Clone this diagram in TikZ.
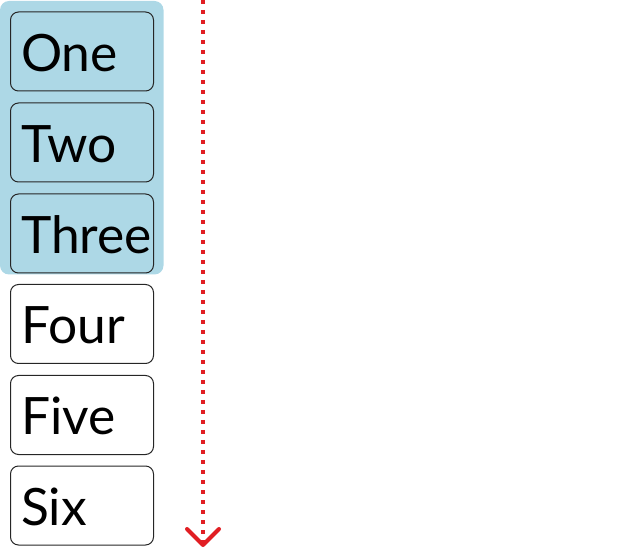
\documentclass[tikz,border=0pt]{standalone}
\usepackage{fontspec}
\setmainfont{Lato}
\definecolor{grpblue}{RGB}{173,216,230}
\definecolor{arrred}{RGB}{225,30,35}
\begin{document}
\begin{tikzpicture}[x=1pt,y=-1pt,
  itembox/.style={draw=black!85,line width=1pt,rounded corners=8pt},
  itemtext/.style={anchor=base west,inner sep=0pt,font=\fontsize{51.5}{51.5}\selectfont},
  grp/.style={fill=grpblue,rounded corners=9pt}]
\useasboundingbox (0,0) rectangle (630,548);
\fill[grp] (0,1) rectangle (163.5,274.5);
\foreach \name/\txt/\top in {one/One/12, two/Two/103, three/Three/194, four/Four/284.5, five/Five/375.5, six/Six/466} {
  \draw[itembox] (10.5,\top) rectangle (153.5,\top+79);
  \node[itemtext] (\name) at (21,\top+59.5) {\txt};
}
\coordinate (lt) at (203,0);
\coordinate (lb) at (203,543);
\draw[arrred,line width=4pt,dash pattern=on 4pt off 6pt] (lt) -- (lb);
\draw[arrred,line width=4pt,line cap=round,line join=round] (187,529) -- (203,545) -- (219,529);
\end{tikzpicture}
\end{document}
